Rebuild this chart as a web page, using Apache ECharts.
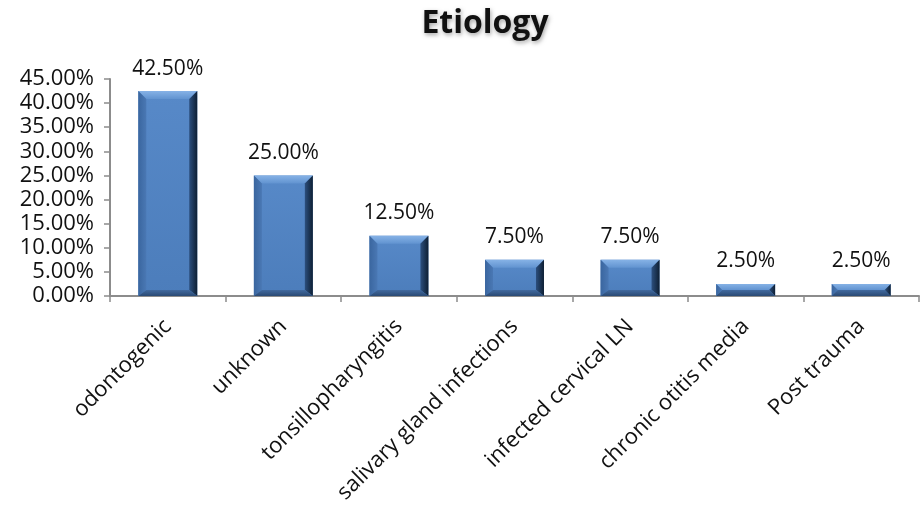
<!DOCTYPE html>
<html>
<head>
<meta charset="utf-8">
<script src="https://cdn.jsdelivr.net/npm/echarts@6/dist/echarts.min.js"></script>
<style>
  html, body { margin: 0; padding: 0; background: #fff; }
  #chart { width: 922px; height: 513px; }
</style>
</head>
<body>
<div id="chart"></div>
<script>
// Etiology categories and their shares (percent)
const categories = [
  'odontogenic',
  'unknown',
  'tonsillopharyngitis',
  'salivary gland infections',
  'infected cervical LN',
  'chronic otitis media',
  'Post trauma'
];
const shares = [42.5, 25.0, 12.5, 7.5, 7.5, 2.5, 2.5];
const yTicks = { min: 0, max: 45, interval: 5 };

const FONT = 'Open Sans';
const chart = echarts.init(document.getElementById('chart'));

// Bevelled column: face plus four sloped edges, positioned through the axes.
function renderBevelBar(params, api) {
  const idx = api.value(0);
  const val = api.value(1);
  const top = api.coord([idx, val]);
  const base = api.coord([idx, 0]);
  const w = api.size([1, 0])[0] * 0.51;
  const x0 = top[0] - w / 2, x1 = top[0] + w / 2;
  const y0 = top[1], y1 = base[1];
  const h = y1 - y0;
  const b = Math.min(8, h / 2);
  const bb = Math.min(6, h / 2);
  const LG = echarts.graphic.LinearGradient;
  return {
    type: 'group',
    children: [
      { type: 'rect', shape: { x: x0, y: y0, width: w, height: h },
        style: { fill: new LG(0, 0, 0, 1, [
          { offset: 0, color: '#5789c8' }, { offset: 1, color: '#4c7dbb' }]) } },
      { type: 'polygon', shape: { points: [[x0, y0], [x1, y0], [x1 - b, y0 + b], [x0 + b, y0 + b]] },
        style: { fill: new LG(0, 0, 0, 1, [
          { offset: 0, color: '#86b2e6' }, { offset: 1, color: '#6193d0' }]) } },
      { type: 'polygon', shape: { points: [[x0, y0], [x0 + b, y0 + b], [x0 + b, y1 - bb], [x0, y1]] },
        style: { fill: new LG(0, 0, 1, 0, [
          { offset: 0, color: '#3a669f' }, { offset: 1, color: '#4a78b4' }]) } },
      { type: 'polygon', shape: { points: [[x1, y0], [x1, y1], [x1 - b, y1 - bb], [x1 - b, y0 + b]] },
        style: { fill: new LG(0, 0, 1, 0, [
          { offset: 0, color: '#2c4f7e' }, { offset: 1, color: '#0e1f33' }]) } },
      { type: 'polygon', shape: { points: [[x0, y1], [x0 + b, y1 - bb], [x1 - b, y1 - bb], [x1, y1]] },
        style: { fill: new LG(0, 0, 0, 1, [
          { offset: 0, color: '#41699e' }, { offset: 1, color: '#2a4a74' }]) } },
      { type: 'text',
        style: {
          text: val.toFixed(2) + '%',
          x: top[0], y: y0 - 12,
          align: 'center', verticalAlign: 'bottom',
          fontFamily: FONT, fontSize: 21, fill: '#111'
        } }
    ]
  };
}

chart.setOption({
  animation: false,
  title: {
    text: 'Etiology',
    left: 480,
    textAlign: 'center',
    top: 3,
    textStyle: {
      fontFamily: FONT,
      fontWeight: 'bold',
      fontSize: 32,
      color: '#111',
      textShadowColor: 'rgba(0,0,0,0.35)',
      textShadowBlur: 4,
      textShadowOffsetX: 1,
      textShadowOffsetY: 2
    }
  },
  grid: { left: 110, right: 3, top: 79, bottom: 217, containLabel: false },
  xAxis: {
    type: 'category',
    data: categories,
    axisLine: { lineStyle: { color: '#8c8c8c', width: 2 } },
    axisTick: { show: true, length: 6, lineStyle: { color: '#8c8c8c', width: 1.5 } },
    axisLabel: {
      interval: 0,
      rotate: 45,
      margin: 27,
      fontFamily: FONT,
      fontSize: 22,
      color: '#111'
    }
  },
  yAxis: {
    type: 'value',
    min: yTicks.min,
    max: yTicks.max,
    interval: yTicks.interval,
    splitLine: { show: false },
    axisLine: { show: true, lineStyle: { color: '#8c8c8c', width: 2 } },
    axisTick: { show: true, length: 6, lineStyle: { color: '#8c8c8c', width: 1.5 } },
    axisLabel: {
      margin: 16,
      fontFamily: FONT,
      fontSize: 22,
      color: '#111',
      formatter: v => v.toFixed(2) + '%'
    }
  },
  series: [
    {
      type: 'custom',
      renderItem: renderBevelBar,
      encode: { x: 0, y: 1 },
      data: shares.map((v, i) => [i, v]),
      clip: false
    }
  ]
});
</script>
</body>
</html>
